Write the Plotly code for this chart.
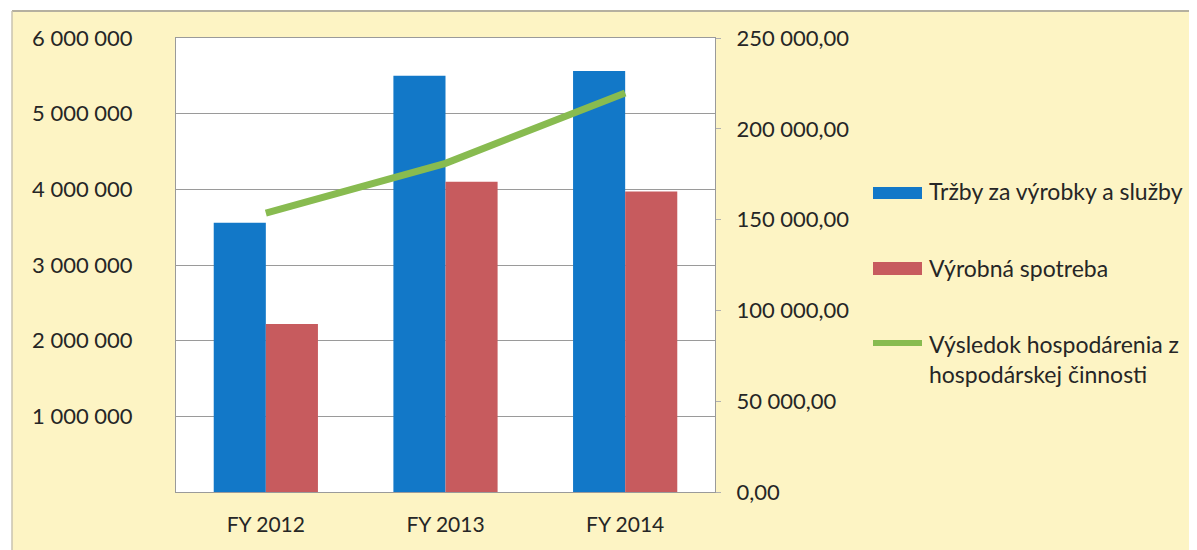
import plotly.graph_objects as go

# ---- data ----
categories = ["FY 2012", "FY 2013", "FY 2014"]
trzby = [3560000, 5500000, 5565000]
spotreba = [2220000, 4100000, 3970000]
vysledok = [153600, 181000, 219700]

series_names = ["Tržby za výrobky a služby", "Výrobná spotreba",
                "Výsledok hospodárenia z<br>hospodárskej činnosti"]

left_tickvals = [1000000, 2000000, 3000000, 4000000, 5000000, 6000000]
left_ticktext = ["1 000 000", "2 000 000", "3 000 000", "4 000 000", "5 000 000", "6 000 000"]
right_tickvals = [0, 50000, 100000, 150000, 200000, 250000]
right_ticktext = ["0,00", "50 000,00", "100 000,00", "150 000,00", "200 000,00", "250 000,00"]

# ---- style ----
BLUE = "#1278C8"
RED = "#C75B5E"
GREEN = "#88BB50"
BG = "#FDF4C4"
TXT = "#262626"
GRID = "#9A9A9A"
FONT = "Lato, 'Open Sans', sans-serif"

OFF = 8  # page body margin offset
SW, SH = 1197, 550          # screen size
W, H = SW - OFF, SH - OFF   # figure size
# plot area in screen pixels
L, R, T, B = 176, 715, 38, 492


def px(x):
    return (x - L) / (R - L)


def py(y):
    return (B - y) / (B - T)


fig = go.Figure()
fig.add_trace(go.Bar(x=categories, y=trzby, name=series_names[0],
                     marker=dict(color=BLUE, line=dict(width=0)), showlegend=False))
fig.add_trace(go.Bar(x=categories, y=spotreba, name=series_names[1],
                     marker=dict(color=RED, line=dict(width=0)), showlegend=False))
fig.add_trace(go.Scatter(x=categories, y=vysledok, name=series_names[2], yaxis="y2",
                         mode="lines", line=dict(color=GREEN, width=7), showlegend=False))

shapes = [
    # white strip above / left of the scanned frame
    dict(type="rect", xref="paper", yref="paper", x0=px(0), x1=px(SW + 5), y0=py(10), y1=py(0),
         fillcolor="white", line=dict(width=0), layer="below"),
    dict(type="rect", xref="paper", yref="paper", x0=px(0), x1=px(12), y0=py(SH), y1=py(0),
         fillcolor="white", line=dict(width=0), layer="below"),
    dict(type="line", xref="paper", yref="paper", x0=px(12), x1=px(SW), y0=py(11), y1=py(11),
         line=dict(color="#B5B0A0", width=2)),
    dict(type="line", xref="paper", yref="paper", x0=px(12), x1=px(12), y0=py(11), y1=py(SH),
         line=dict(color="#C8C3B0", width=1.5)),
]

# custom legend (symbols + text)
leg_x0, leg_x1, txt_x = 873, 922, 927
shapes.append(dict(type="rect", xref="paper", yref="paper", x0=px(leg_x0), x1=px(leg_x1),
                   y0=py(199), y1=py(187), fillcolor=BLUE, line=dict(width=0)))
shapes.append(dict(type="rect", xref="paper", yref="paper", x0=px(leg_x0), x1=px(leg_x1),
                   y0=py(275), y1=py(262), fillcolor=RED, line=dict(width=0)))
shapes.append(dict(type="line", xref="paper", yref="paper", x0=px(leg_x0), x1=px(leg_x1),
                   y0=py(343), y1=py(343), line=dict(color=GREEN, width=6)))

LEGFS = 23
annotations = [
    dict(xref="paper", yref="paper", x=px(txt_x), y=py(191), text=series_names[0],
         showarrow=False, xanchor="left", yanchor="middle", align="left",
         font=dict(size=LEGFS)),
    dict(xref="paper", yref="paper", x=px(txt_x), y=py(268), text=series_names[1],
         showarrow=False, xanchor="left", yanchor="middle", align="left",
         font=dict(size=LEGFS)),
    dict(xref="paper", yref="paper", x=px(txt_x), y=py(328), text=series_names[2],
         showarrow=False, xanchor="left", yanchor="top", align="left",
         font=dict(size=LEGFS)),
]

fig.update_layout(
    width=W, height=H,
    margin=dict(l=L - OFF, r=W - (R - OFF), t=T - OFF, b=H - (B - OFF), pad=0),
    paper_bgcolor=BG, plot_bgcolor="white",
    font=dict(family=FONT, size=22, color=TXT),
    barmode="group", bargap=0.42, bargroupgap=0,
    showlegend=False,
    shapes=shapes, annotations=annotations,
    xaxis=dict(showgrid=False, showline=True, linecolor=GRID, linewidth=1, mirror=True,
               ticks="", ticklabelstandoff=14, tickfont=dict(size=21, color=TXT)),
    yaxis=dict(range=[0, 6000000], tickvals=left_tickvals, ticktext=left_ticktext,
               showgrid=True, gridcolor=GRID, gridwidth=1, zeroline=False,
               showline=True, linecolor=GRID, linewidth=1, mirror=True,
               ticks="", ticklabelstandoff=38, tickfont=dict(size=22, color=TXT)),
    yaxis2=dict(range=[0, 250000], overlaying="y", side="right",
                tickvals=right_tickvals, ticktext=right_ticktext,
                showgrid=False, zeroline=False, showline=False,
                ticks="outside", ticklen=5, tickcolor="#B0B0B0",
                ticklabelstandoff=11, tickfont=dict(size=22, color=TXT)),
)

fig.write_html("out.html")
